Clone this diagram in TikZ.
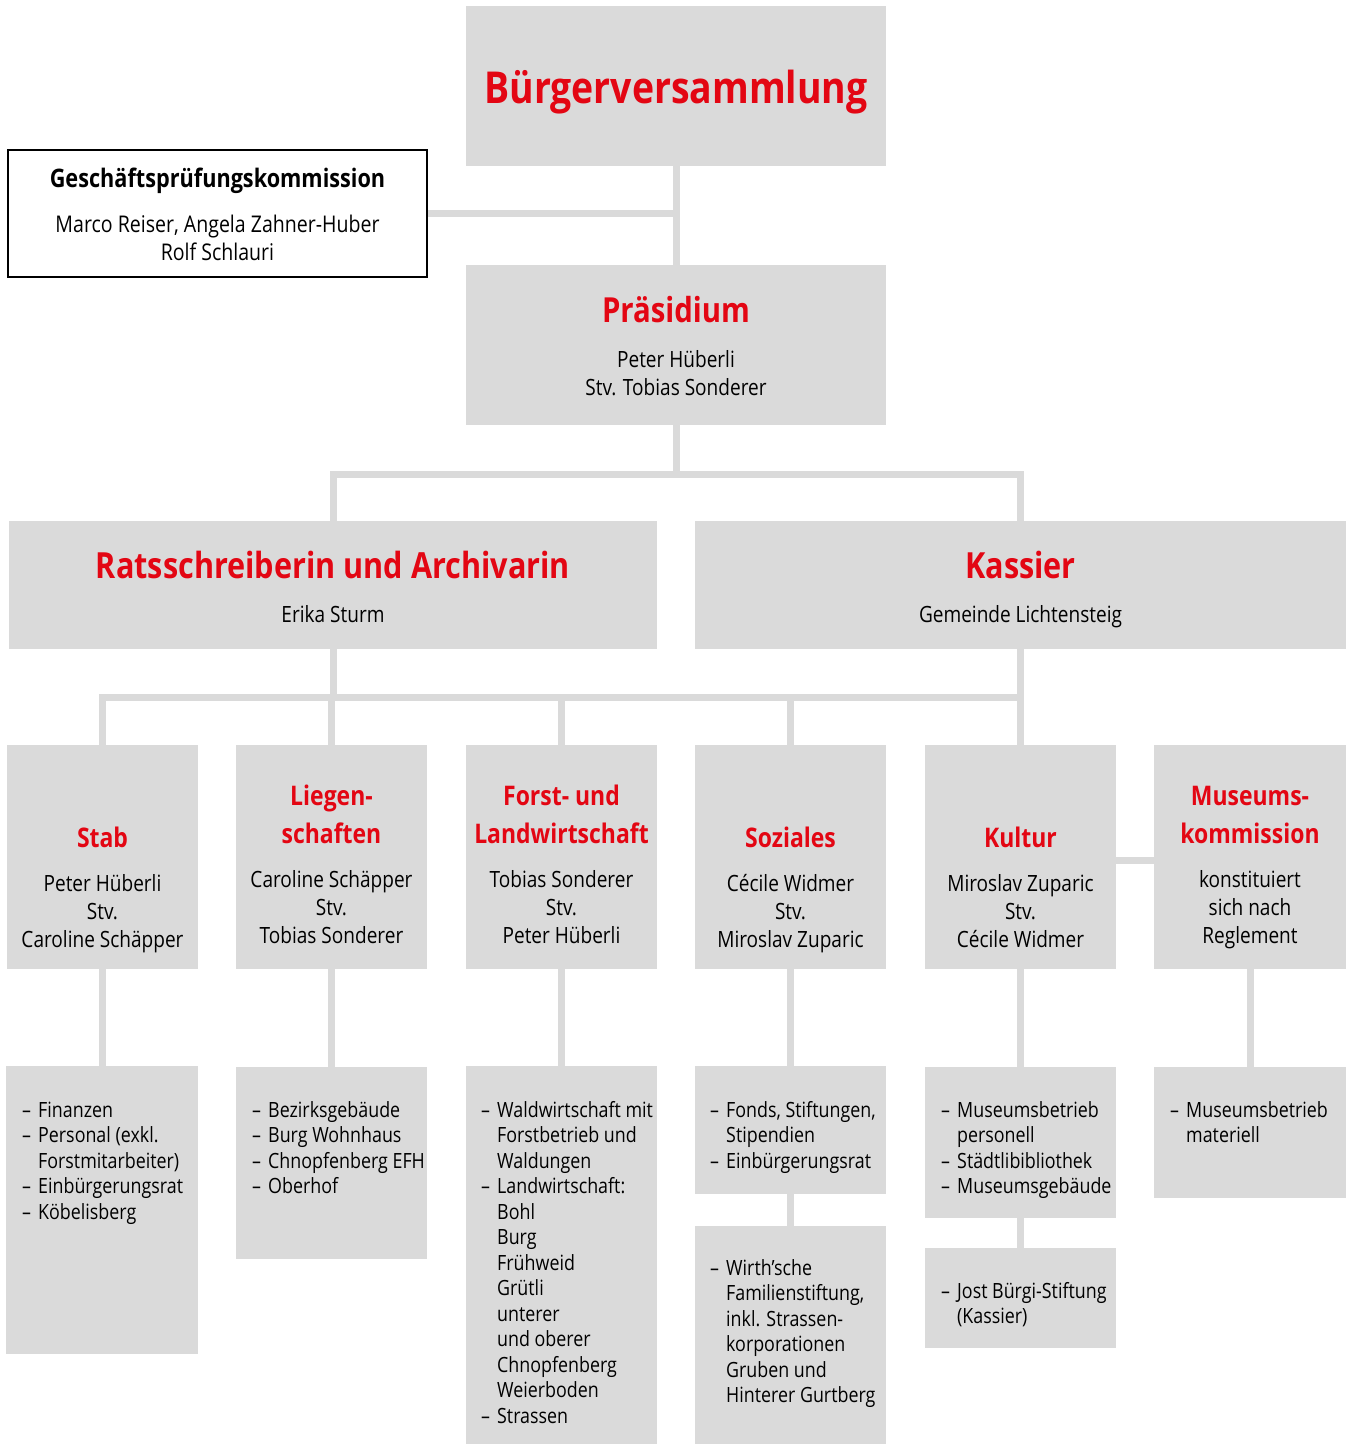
\documentclass[tikz,border=0pt]{standalone}
\usepackage{fontspec}
\setmainfont{Open Sans}[FakeStretch=0.85]
\usetikzlibrary{backgrounds}
\definecolor{bx}{HTML}{DADADA}
\definecolor{rd}{HTML}{E30613}
\newcommand\stk[1]{\begin{tabular}[t]{@{}c@{}}#1\end{tabular}}
\newcommand\lst[1]{\begin{tabular}[t]{@{}l@{}}#1\end{tabular}}
\newcommand\dl{\makebox[16pt][l]{–}}
\newcommand\il{\hspace*{16pt}}
\begin{document}
\begin{tikzpicture}[x=1pt,y=-1pt,
  box/.style={fill=bx,draw=none,inner sep=0pt,outer sep=0pt,anchor=north west},
  conn/.style={draw=bx,line width=7pt,line join=miter},
  txt/.style={inner sep=0pt,anchor=base},
  hA/.style={txt,text=rd,font=\bfseries\fontsize{44}{50}\selectfont},
  hB/.style={txt,text=rd,font=\bfseries\fontsize{36}{42}\selectfont},
  hC/.style={txt,text=rd,font=\bfseries\fontsize{34.5}{40}\selectfont},
  hD/.style={txt,text=rd,font=\bfseries\fontsize{27}{38.5}\selectfont},
  body/.style={txt,font=\fontsize{22.4}{28.3}\selectfont},
  lbody/.style={inner sep=0pt,anchor=base west,font=\fontsize{21}{25.5}\selectfont}]
\useasboundingbox (0,0) rectangle (1352,1445);
% boxes
\node[box,minimum width=420pt,minimum height=160pt] (bv) at (466,6) {};
\node[box,fill=white,draw=black,line width=1.2pt,minimum width=419pt,minimum height=127pt] (gpk) at (8,150) {};
\node[box,minimum width=420pt,minimum height=160pt] (pr) at (466,265) {};
\node[box,minimum width=648pt,minimum height=128pt] (rs) at (9,521) {};
\node[box,minimum width=651pt,minimum height=128pt] (ks) at (695,521) {};
\node[box,minimum width=191pt,minimum height=224pt] (stab) at (7,745) {};
\node[box,minimum width=191pt,minimum height=224pt] (lieg) at (236,745) {};
\node[box,minimum width=191pt,minimum height=224pt] (forst) at (466,745) {};
\node[box,minimum width=191pt,minimum height=224pt] (soz) at (695,745) {};
\node[box,minimum width=191pt,minimum height=224pt] (kult) at (925,745) {};
\node[box,minimum width=192pt,minimum height=224pt] (mus) at (1154,745) {};
\node[box,minimum width=192pt,minimum height=288pt] (stabL) at (6,1066) {};
\node[box,minimum width=191pt,minimum height=192pt] (liegL) at (236,1067) {};
\node[box,minimum width=191pt,minimum height=378pt] (forstL) at (466,1066) {};
\node[box,minimum width=191pt,minimum height=128pt] (sozL) at (695,1066) {};
\node[box,minimum width=191pt,minimum height=218pt] (sozM) at (695,1226) {};
\node[box,minimum width=191pt,minimum height=151pt] (kultL) at (925,1067) {};
\node[box,minimum width=191pt,minimum height=100pt] (kultM) at (925,1248) {};
\node[box,minimum width=192pt,minimum height=131pt] (musL) at (1154,1067) {};
% connectors
\coordinate (j1) at (676,474.5);
\coordinate (j2) at (676,697);
\begin{scope}[on background layer]
\draw[conn] (bv.south) -- (pr.north);
\draw[conn] (gpk.east) -- (gpk.east -| bv.south);
\draw[conn] (pr.south) -- (j1);
\draw[conn] (rs.north) |- (j1) -| (ks.north);
\draw[conn] (rs.south) -- (rs.south |- j2);
\draw[conn] (ks.south) -- (ks.south |- j2);
\draw[conn] (stab.north) |- (j2) -| (kult.north);
\draw[conn] (lieg.north) -- (lieg.north |- j2);
\draw[conn] (forst.north) -- (forst.north |- j2);
\draw[conn] (soz.north) -- (soz.north |- j2);
\draw[conn] ([yshift=-3pt]kult.east) -- ([yshift=-3pt]mus.west);
\draw[conn] (stab.south) -- (stab.south |- stabL.north);
\draw[conn] (lieg.south) -- (lieg.south |- liegL.north);
\draw[conn] (forst.south) -- (forst.south |- forstL.north);
\draw[conn] (soz.south) -- (soz.south |- sozL.north);
\draw[conn] (kult.south) -- (kult.south |- kultL.north);
\draw[conn] (mus.south) -- (mus.south |- musL.north);
\draw[conn] (sozL.south) -- (sozM.north);
\draw[conn] (kultL.south) -- (kultM.north);
\end{scope}
% texts
\node[hA] (bvT) at (676,103) {Bürgerversammlung};
\node[txt,font=\bfseries\fontsize{25.5}{30}\selectfont] (gpkT) at (217.5,187) {Geschäftsprüfungskommission};
\node[txt,font=\fontsize{23}{28}\selectfont] (gpkB) at (217.5,232) {\stk{Marco Reiser, Angela Zahner-Huber\\Rolf Schlauri}};
\node[hC] (prT) at (676,322) {Präsidium};
\node[body] (prB) at (676,367) {\stk{Peter Hüberli\\Stv. Tobias Sonderer}};
\node[hB] (rsT) at (333,578) {Ratsschreiberin und Archivarin};
\node[body] (rsB) at (333,622) {Erika Sturm};
\node[hB] (ksT) at (1020.5,578) {Kassier};
\node[body] (ksB) at (1020.5,622) {Gemeinde Lichtensteig};
\node[hD] (stabT) at (102.5,847) {Stab};
\node[body] (stabB) at (102.5,891) {\stk{Peter Hüberli\\Stv.\\Caroline Schäpper}};
\node[hD] (liegT) at (331.5,805) {\stk{Liegen-\\schaften}};
\node[body] (liegB) at (331.5,887) {\stk{Caroline Schäpper\\Stv.\\Tobias Sonderer}};
\node[hD] (forstT) at (561.5,805) {\stk{Forst- und\\Landwirtschaft}};
\node[body] (forstB) at (561.5,887) {\stk{Tobias Sonderer\\Stv.\\Peter Hüberli}};
\node[hD] (sozT) at (790.5,847) {Soziales};
\node[body] (sozB) at (790.5,891) {\stk{Cécile Widmer\\Stv.\\Miroslav Zuparic}};
\node[hD] (kultT) at (1020.5,847) {Kultur};
\node[body] (kultB) at (1020.5,891) {\stk{Miroslav Zuparic\\Stv.\\Cécile Widmer}};
\node[hD] (musT) at (1250,805) {\stk{Museums-\\kommission}};
\node[body] (musB) at (1250,887) {\stk{konstituiert\\sich nach\\Reglement}};
% lists
\node[lbody] (stabLT) at (22,1117) {\lst{\dl Finanzen\\\dl Personal (exkl.\\\il Forstmitarbeiter)\\\dl Einbürgerungsrat\\\dl Köbelisberg}};
\node[lbody] (liegLT) at (252,1117) {\lst{\dl Bezirksgebäude\\\dl Burg Wohnhaus\\\dl Chnopfenberg EFH\\\dl Oberhof}};
\node[lbody] (forstLT) at (481,1117) {\lst{\dl Waldwirtschaft mit\\\il Forstbetrieb und\\\il Waldungen\\\dl Landwirtschaft:\\\il Bohl\\\il Burg\\\il Frühweid\\\il Grütli\\\il unterer\\\il und oberer\\\il Chnopfenberg\\\il Weierboden\\\dl Strassen}};
\node[lbody] (sozLT) at (710,1117) {\lst{\dl Fonds, Stiftungen,\\\il Stipendien\\\dl Einbürgerungsrat}};
\node[lbody] (sozMT) at (710,1275) {\lst{\dl Wirth’sche\\\il Familienstiftung,\\\il inkl. Strassen-\\\il korporationen\\\il Gruben und\\\il Hinterer Gurtberg}};
\node[lbody] (kultLT) at (941,1117) {\lst{\dl Museumsbetrieb\\\il personell\\\dl Städtlibibliothek\\\dl Museumsgebäude}};
\node[lbody] (kultMT) at (941,1298) {\lst{\dl Jost Bürgi-Stiftung\\\il (Kassier)}};
\node[lbody] (musLT) at (1170,1117) {\lst{\dl Museumsbetrieb\\\il materiell}};
\end{tikzpicture}
\end{document}
